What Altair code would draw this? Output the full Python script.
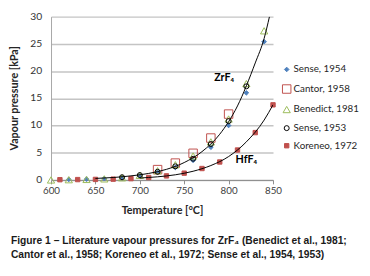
import altair as alt
import pandas as pd

# ---- data ----
series_names = ["Sense, 1954", "Cantor, 1958", "Benedict, 1981", "Sense, 1953", "Koreneo, 1972"]

sense1954_t = [620, 640, 660, 680, 700, 720, 740, 760, 780, 800, 820, 840]
sense1954_p = [0.1, 0.15, 0.25, 0.45, 0.8, 1.4, 2.3, 3.6, 6.0, 10.0, 16.0, 25.4]

cantor1958_t = [720, 740, 760, 780, 800]
cantor1958_p = [1.9, 3.1, 4.9, 7.7, 12.1]

benedict1981_t = [600, 620, 640, 660, 680, 700, 720, 740, 760, 780, 800, 820, 840]
benedict1981_p = [0.0, 0.05, 0.1, 0.2, 0.4, 0.85, 1.7, 2.8, 4.4, 7.0, 11.2, 17.7, 27.4]

sense1953_t = [680, 700, 720, 740, 760, 780, 800, 820]
sense1953_p = [0.5, 0.9, 1.5, 2.5, 3.9, 6.6, 10.8, 17.2]

koreneo1972_t = [610, 630, 650, 670, 690, 710, 730, 750, 770, 790, 810, 830, 850]
koreneo1972_p = [0.05, 0.07, 0.1, 0.15, 0.25, 0.45, 0.75, 1.25, 2.1, 3.3, 5.5, 8.7, 13.8]

# fitted curves
zrf4_curve_t = [650, 670, 690, 710, 730, 750, 770, 790, 810, 830, 840, 846]
zrf4_curve_p = [0.28, 0.45, 0.75, 1.2, 1.95, 3.2, 5.2, 8.4, 13.6, 21.5, 26.0, 30.0]

hff4_curve_t = [700, 720, 740, 760, 780, 800, 820, 840, 850]
hff4_curve_p = [0.36, 0.58, 0.95, 1.6, 2.65, 4.3, 7.0, 11.0, 13.8]

labels_text = ["ZrF₄", "HfF₄"]
labels_t = [795, 820]
labels_p = [18.8, 3.7]

x_ticks = [600, 650, 700, 750, 800, 850]
y_ticks = [0, 5, 10, 15, 20, 25, 30]
y_tick_labels = ["0", "5", "10", "15", "20", "25", "30"]

caption_lines = [
    "Figure 1 – Literature vapour pressures for ZrF₄ (Benedict et al., 1981;",
    "Cantor et al., 1958; Koreneo et al., 1972; Sense et al., 1954, 1953)",
]

# ---- tables ----
rows = []
for name, ts, ps in [
    (series_names[0], sense1954_t, sense1954_p),
    (series_names[1], cantor1958_t, cantor1958_p),
    (series_names[2], benedict1981_t, benedict1981_p),
    (series_names[3], sense1953_t, sense1953_p),
    (series_names[4], koreneo1972_t, koreneo1972_p),
]:
    rows += [{"series": name, "T": t, "P": p} for t, p in zip(ts, ps)]
df = pd.DataFrame(rows)

curves = pd.DataFrame(
    [{"curve": "ZrF4", "T": t, "P": p} for t, p in zip(zrf4_curve_t, zrf4_curve_p)]
    + [{"curve": "HfF4", "T": t, "P": p} for t, p in zip(hff4_curve_t, hff4_curve_p)]
)
labels_df = pd.DataFrame({"label": labels_text, "T": labels_t, "P": labels_p})
yticks_df = pd.DataFrame({"P": y_ticks, "lab": y_tick_labels})

FONT = "Lato"
x_scale = alt.Scale(domain=[600, 850], nice=False)
y_scale = alt.Scale(domain=[0, 30], nice=False)

x_axis = alt.Axis(values=x_ticks, grid=False, domainColor="#8c8c8c",
                  tickColor="#8c8c8c", tickSize=4, labelPadding=2, labelFontSize=10,
                  labelColor="#404040", labelFlush=False, labelOverlap=False,
                  titleFontSize=11, titleFontWeight="bold", titleColor="#262626",
                  titleY=31, titleBaseline="middle")
y_axis = alt.Axis(values=y_ticks, grid=True, gridColor="#c4c4c4",
                  gridWidth=1.5, domainColor="#a6a6a6", ticks=False, labels=False,
                  titleFontSize=11, titleFontWeight="bold",
                  titleColor="#262626", titleX=-37, titleY=83, titleAngle=270,
                  titleAlign="center", titleBaseline="middle")

X = alt.X("T:Q", scale=x_scale, axis=x_axis, title="Temperature [°C]")
Y = alt.Y("P:Q", scale=y_scale, axis=y_axis, title="Vapour pressure [kPa]")

leg = alt.Legend(title=None, orient="none", legendX=236, legendY=49, labelFontSize=10,
                 labelColor="#262626", labelFont=FONT, rowPadding=8, labelOffset=2,
                 symbolStrokeWidth=1, padding=0)

def sc(rng):
    return alt.Scale(type="ordinal", domain=series_names, range=rng)

points = alt.Chart(df).mark_point(strokeWidth=1, opacity=1).encode(
    x=X, y=Y,
    shape=alt.Shape("series:N", scale=alt.Scale(domain=series_names,
                    range=["diamond", "square", "triangle-up", "circle", "square"]), legend=leg),
    stroke=alt.Stroke("series:N", scale=alt.Scale(domain=series_names,
                      range=["#4f81bd", "#c0504d", "#9bbb59", "#000000", "#c0504d"]), legend=leg),
    fill=alt.Fill("series:N", scale=alt.Scale(domain=series_names,
                  range=["#4f81bd", "transparent", "transparent", "transparent", "#c0504d"]), legend=leg),
    size=alt.Size("series:N", scale=sc([22, 75, 55, 26, 20]), legend=leg),
)

lines = alt.Chart(curves).mark_line(color="black", strokeWidth=1, interpolate="monotone", clip=True).encode(
    x=X, y=Y, detail="curve:N",
)

labels = alt.Chart(labels_df).mark_text(font=FONT, fontSize=11, fontWeight="bold", color="#000000").encode(
    x=X, y=Y, text="label:N",
)

ylabels = alt.Chart(yticks_df).mark_text(font=FONT, fontSize=10.5, color="#333333",
                                         align="right", baseline="middle").encode(
    x=alt.value(-9), y=alt.Y("P:Q", scale=y_scale, axis=y_axis, title="Vapour pressure [kPa]"),
    text=alt.Text("lab:N"),
    detail="lab:N",
)

cap_base = alt.Chart(labels_df.head(1)).mark_text(
    font="Liberation Sans Narrow, Liberation Sans", fontSize=10.5, fontWeight="bold",
    align="left", baseline="middle", color="#1a1a1a"
)
caption1 = cap_base.encode(x=alt.value(-41), y=alt.value(229), text=alt.value(caption_lines[0]))
caption2 = cap_base.encode(x=alt.value(-41), y=alt.value(244), text=alt.value(caption_lines[1]))

chart = alt.layer(points, lines, labels, ylabels, caption1, caption2).properties(
    width=227, height=167,
    autosize=alt.AutoSizeParams(type="none"),
    padding={"left": 44, "top": 6, "right": 91, "bottom": 79},
).configure_view(stroke=None).configure_axis(labelFont=FONT, titleFont=FONT)

chart.save("out.html", embed_options={"renderer": "svg", "actions": False})
